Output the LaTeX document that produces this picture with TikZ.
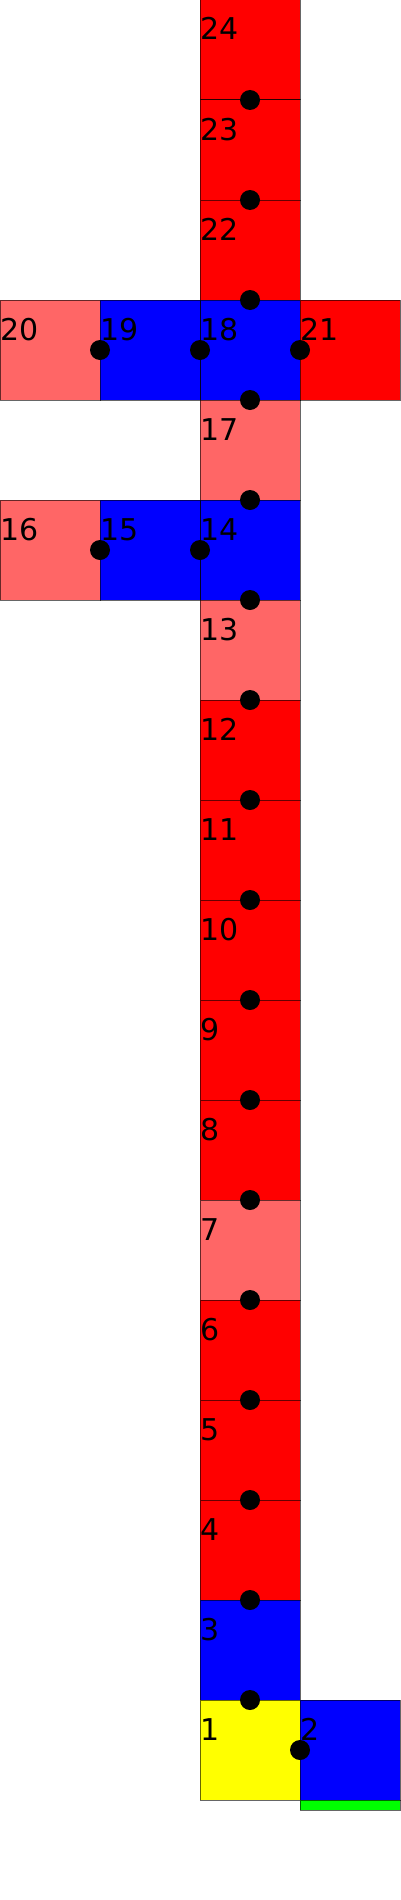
\documentclass[tikz,border=0pt]{standalone}
\usepackage{fontspec}
\setmainfont{DejaVu Sans}
\usetikzlibrary{positioning}
\definecolor{CellRed}{RGB}{255,0,0}
\definecolor{CellPink}{RGB}{255,102,102}
\definecolor{CellBlue}{RGB}{0,0,255}
\definecolor{CellYellow}{RGB}{255,255,0}
\definecolor{CellGreen}{RGB}{0,255,0}
\tikzset{
  cell/.style={draw=black, draw opacity=0.6, line width=1pt, minimum size=100pt, inner sep=0pt, outer sep=0pt, anchor=north west},
  num/.style={anchor=base west, inner sep=0pt, outer sep=0pt, font=\fontsize{30}{32}\selectfont},
  joint/.style={fill=black}
}
\begin{document}
\begin{tikzpicture}[x=1pt, y=-1pt]
  \useasboundingbox (0,0) rectangle (400,1900);
  % main column
  \foreach \n/\y/\c in {24/0/CellRed, 23/100/CellRed, 22/200/CellRed, 18/300/CellBlue, 17/400/CellPink,
      14/500/CellBlue, 13/600/CellPink, 12/700/CellRed, 11/800/CellRed, 10/900/CellRed, 9/1000/CellRed,
      8/1100/CellRed, 7/1200/CellPink, 6/1300/CellRed, 5/1400/CellRed, 4/1500/CellRed, 3/1600/CellBlue,
      1/1700/CellYellow}
    \node[cell, fill=\c] (c\n) at (200,\y) {};
  % side cells
  \node[cell, fill=CellPink] (c20) at (0,300) {};
  \node[cell, fill=CellBlue] (c19) at (100,300) {};
  \node[cell, fill=CellRed] (c21) at (300,300) {};
  \node[cell, fill=CellPink] (c16) at (0,500) {};
  \node[cell, fill=CellBlue] (c15) at (100,500) {};
  \node[cell, fill=CellBlue] (c2) at (300,1700) {};
  \node[cell, fill=CellGreen, minimum height=10pt] (base) at (c2.south west) {};
  % numbers
  \foreach \n in {1,...,24}
    \node[num, yshift=-40pt] (n\n) at (c\n.north west) {\n};
  % joints
  \foreach \p in {c24.south, c23.south, c22.south, c18.south, c18.west, c19.west, c18.east,
      c17.south, c14.west, c15.west, c14.south, c13.south, c12.south, c11.south, c10.south,
      c9.south, c8.south, c7.south, c6.south, c5.south, c4.south, c3.south, c1.east}
    \fill[joint] (\p) circle (10pt);
\end{tikzpicture}
\end{document}
